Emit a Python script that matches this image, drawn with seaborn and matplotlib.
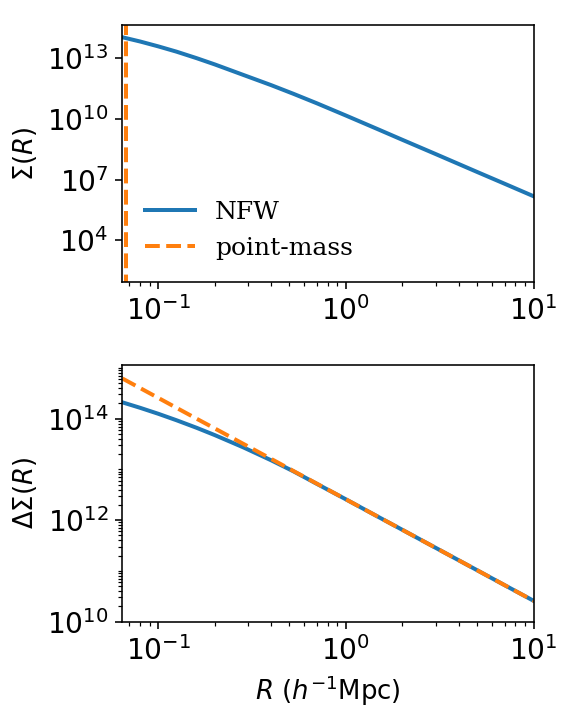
import matplotlib

matplotlib.use("Agg")
import matplotlib.pyplot as plt
import matplotlib.ticker as mticker
import seaborn as sns

# --- Data
# Projected radius (h^-1 Mpc)
R = [0.0644, 0.08, 0.1, 0.125, 0.16, 0.2, 0.284, 0.4, 0.525, 0.7,
     1.0, 1.5, 2.0, 3.0, 5.0, 7.0, 10.0]

# Surface density of the NFW profile
sigma_nfw = [1.10e14, 6.8e13, 3.9e13, 2.14e13, 1.02e13, 5.0e12, 1.51e12,
             4.7e11, 1.76e11, 5.97e10, 1.48e10, 2.95e9, 9.3e8, 1.86e8,
             2.40e7, 6.3e6, 1.51e6]

# Point mass surface density is a spike at the centre
R_spike = [0.0673, 0.0673]
sigma_pm = [1e16, 1e0]

# Excess surface density
dsigma_nfw = [2.10e14, 1.64e14, 1.25e14, 9.33e13, 6.62e13, 4.75e13, 2.72e13,
              1.51e13, 9.18e12, 5.19e12, 2.57e12, 1.14e12, 6.43e11, 2.86e11,
              1.03e11, 5.24e10, 2.57e10]
dsigma_pm = [6.20e14, 4.02e14, 2.57e14, 1.64e14, 1.00e14, 6.43e13, 3.19e13,
             1.61e13, 9.32e12, 5.24e12, 2.57e12, 1.14e12, 6.43e11, 2.86e11,
             1.03e11, 5.24e10, 2.57e10]

# Major tick values of the top panel
sigma_ticks = [1e4, 1e7, 1e10, 1e13]

plt.rcParams["font.size"] = 13
plt.rcParams["xtick.labelsize"] = 14
plt.rcParams["ytick.labelsize"] = 14

fig, axes = plt.subplots(nrows=2, ncols=1, figsize=(572 / 144, 717 / 144), dpi=144)
fig.subplots_adjust(left=0.214, right=0.933, top=0.965, bottom=0.133, hspace=0.32)

# %% Top panel: Sigma(R)
ax = axes[0]
sns.lineplot(x=R, y=sigma_nfw, ax=ax, color="C0", linewidth=2, label="NFW")
sns.lineplot(x=R_spike, y=sigma_pm, ax=ax, color="C1", linestyle="--",
             linewidth=2, label="point-mass", estimator=None, sort=False)
ax.set(xscale="log", yscale="log")
ax.set_xlim(0.0644, 10)
ax.set_ylim(85, 4.4e14)
ax.set_yticks(sigma_ticks)
ax.yaxis.set_minor_locator(mticker.NullLocator())
ax.set_ylabel(r"$\Sigma(R)$")
ax.legend(frameon=False, loc="lower left", prop={"family": "serif", "size": 12.5})

# %% Bottom panel: Delta Sigma(R)
ax = axes[1]
sns.lineplot(x=R, y=dsigma_nfw, ax=ax, color="C0", linewidth=2)
sns.lineplot(x=R, y=dsigma_pm, ax=ax, color="C1", linestyle="--", linewidth=2)
ax.set(xscale="log", yscale="log")
ax.set_xlim(0.0644, 10)
ax.set_ylim(1e10, 1.17e15)
ax.yaxis.set_minor_locator(
    mticker.LogLocator(base=10, subs=range(1, 10), numticks=100)
)
ax.yaxis.set_minor_formatter(mticker.NullFormatter())
ax.set_ylabel(r"$\Delta\Sigma(R)$")
ax.set_xlabel(r"$R\ (h^{-1}\mathrm{Mpc})$")

fig.savefig("out.png", dpi=144)
